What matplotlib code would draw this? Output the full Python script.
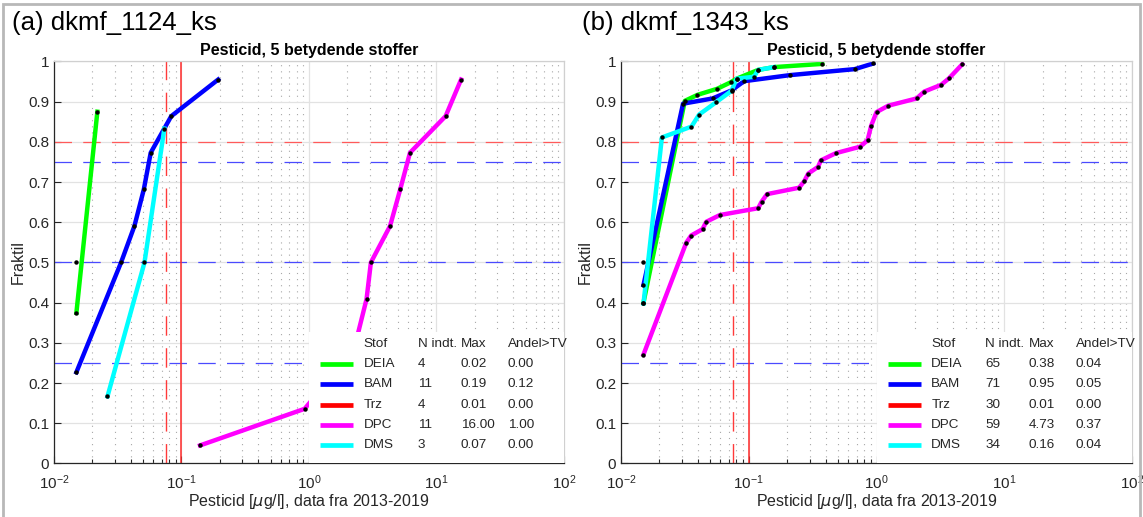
import matplotlib
matplotlib.use("Agg")
import matplotlib.pyplot as plt
from matplotlib.patches import Rectangle
from matplotlib.ticker import FixedLocator, FuncFormatter

plt.rcParams["font.family"] = ["Liberation Sans", "DejaVu Sans"]

dark = "#262626"

substances = ["DEIA", "BAM", "Trz", "DPC", "DMS"]
colors = ["#00ff00", "#0000ff", "#ff0000", "#ff00ff", "#00ffff"]

# (a) dkmf_1124_ks
a_x = {
    "DEIA": [0.015, 0.0219],
    "BAM": [0.015, 0.0336, 0.0428, 0.0507, 0.0574, 0.0832, 0.194],
    "Trz": [],
    "DPC": [0.14, 0.925, 1.6, 2.4, 2.83, 3.06, 4.33, 5.2, 6.2, 11.8, 15.6],
    "DMS": [0.0263, 0.0513, 0.0734],
}
a_y = {
    "DEIA": [0.375, 0.875],
    "BAM": [0.227, 0.5, 0.591, 0.682, 0.773, 0.864, 0.955],
    "Trz": [],
    "DPC": [0.045, 0.136, 0.227, 0.318, 0.409, 0.5, 0.591, 0.682, 0.773, 0.864, 0.955],
    "DMS": [0.167, 0.5, 0.833],
}
a_extra_x = [0.015]
a_extra_y = [0.5]
a_n = [4, 11, 4, 11, 3]
a_max = [0.02, 0.19, 0.01, 16.00, 0.07]
a_andel = [0.00, 0.12, 0.00, 1.00, 0.00]

# (b) dkmf_1343_ks
b_x = {
    "DEIA": [0.015, 0.0316, 0.0397, 0.0566, 0.072, 0.0802, 0.1185, 0.158, 0.376],
    "BAM": [0.015, 0.0306, 0.0521, 0.0733, 0.092, 0.21, 0.677, 0.942],
    "Trz": [],
    "DPC": [0.015, 0.0324, 0.0354, 0.0435, 0.0464, 0.0594, 0.1185, 0.126, 0.139,
            0.248, 0.273, 0.292, 0.349, 0.367, 0.481, 0.745, 0.851, 0.908, 1.0,
            1.235, 2.06, 2.36, 3.21, 3.69, 4.69],
    "DMS": [0.015, 0.0209, 0.0356, 0.0409, 0.0552, 0.0733, 0.0802, 0.110, 0.1185, 0.158],
}
b_y = {
    "DEIA": [0.40, 0.902, 0.917, 0.932, 0.948, 0.957, 0.979, 0.986, 0.994],
    "BAM": [0.444, 0.895, 0.908, 0.928, 0.951, 0.966, 0.981, 0.995],
    "Trz": [],
    "DPC": [0.271, 0.549, 0.567, 0.583, 0.601, 0.618, 0.635, 0.651, 0.670,
            0.686, 0.703, 0.721, 0.738, 0.754, 0.772, 0.788, 0.804, 0.840, 0.874,
            0.890, 0.908, 0.925, 0.942, 0.958, 0.993],
    "DMS": [0.398, 0.811, 0.838, 0.868, 0.898, 0.927, 0.957, 0.962, 0.979, 0.986],
}
b_extra_x = [0.015]
b_extra_y = [0.5]
b_n = [65, 71, 30, 59, 34]
b_max = [0.38, 0.95, 0.01, 4.73, 0.16]
b_andel = [0.04, 0.05, 0.00, 0.37, 0.04]

tv = 0.1
tv_75 = 0.075
y_ticks = [0, 0.1, 0.2, 0.3, 0.4, 0.5, 0.6, 0.7, 0.8, 0.9, 1]


def table_legend(ax, n_indt, max_val, andel):
    # MATLAB-like legend with extra columns
    ax.add_patch(Rectangle((0.50, 0.0), 0.50, 0.328, transform=ax.transAxes,
                           facecolor="white", edgecolor="none", zorder=5))
    fs = 9.7
    head_y = 0.297
    kw = dict(transform=ax.transAxes, fontsize=fs, color=dark, va="center",
              ha="left", zorder=6, clip_on=False)
    ax.text(0.607, head_y, "Stof", **kw)
    ax.text(0.713, head_y, "N indt.", **kw)
    ax.text(0.798, head_y, "Max", **kw)
    ax.text(0.890, head_y, "Andel>TV", **kw)
    for i, name in enumerate(substances):
        yy = head_y - 0.0502 * (i + 1)
        ax.plot([0.522, 0.587], [yy, yy], transform=ax.transAxes, color=colors[i],
                lw=3.4, solid_capstyle="butt", zorder=6)
        ax.text(0.607, yy, name, **kw)
        ax.text(0.713, yy, str(n_indt[i]), **kw)
        ax.text(0.798, yy, f"{max_val[i]:.2f}", **kw)
        ax.text(0.890, yy, f"{andel[i]:.2f}", **kw)


def panel(ax, xs, ys, extra_x, extra_y, n_indt, max_val, andel):
    ax.set_xscale("log")
    ax.set_xlim(1e-2, 1e2)
    ax.set_ylim(0, 1)

    ax.grid(True, which="major", color="#e2e2e2", lw=0.9, zorder=0)
    ax.grid(True, which="minor", axis="x", color="#a8a8a8", lw=0.8,
            linestyle=(0, (1, 4.5)), zorder=0)
    ax.set_axisbelow(True)

    ax.axhline(0.8, color="#ff5a5a", lw=0.9, dashes=(14, 9), zorder=1)
    for yv in [0.75, 0.5, 0.25]:
        ax.axhline(yv, color="#4a4aff", lw=0.9, dashes=(14, 9), zorder=1)
    ax.axvline(tv, color="#ff2a2a", lw=1.1, zorder=1.5)
    ax.axvline(tv_75, color="#ff3a3a", lw=1.0, dashes=(14, 9), zorder=1.5)

    for name, c in zip(substances, colors):
        if len(xs[name]) == 0:
            continue
        ax.plot(xs[name], ys[name], color=c, lw=3.2, zorder=2,
                solid_joinstyle="round")
    for name in substances:
        ax.plot(xs[name], ys[name], "o", color="k", ms=3.2, mew=0, zorder=3)
    ax.plot(extra_x, extra_y, "o", color="k", ms=3.2, mew=0, zorder=3)

    ax.yaxis.set_major_locator(FixedLocator(y_ticks))
    ax.yaxis.set_major_formatter(FuncFormatter(lambda v, p: f"{v:g}"))
    ax.tick_params(which="both", direction="in", colors=dark, labelsize=11,
                   top=False, right=False)
    ax.tick_params(which="major", length=5, width=0.8)
    ax.tick_params(which="minor", length=3, width=0.8)
    ax.tick_params(axis="x", which="major", pad=7)
    for side in ["left", "bottom"]:
        ax.spines[side].set_color(dark)
        ax.spines[side].set_linewidth(0.9)
    for side in ["top", "right"]:
        ax.spines[side].set_color("#d0d0d0")
        ax.spines[side].set_linewidth(0.9)

    ax.set_title("Pesticid, 5 betydende stoffer", fontsize=11.5,
                 fontweight="bold", color="k", pad=5)
    ax.set_xlabel(r"Pesticid [$\mu$g/l], data fra 2013-2019", fontsize=11.5,
                  color=dark)
    ax.set_ylabel("Fraktil", fontsize=11.5, color=dark)
    ax.xaxis.set_label_coords(0.5, -0.072)
    ax.yaxis.set_label_coords(-0.055, 0.5)

    table_legend(ax, n_indt, max_val, andel)


fig = plt.figure(figsize=(11.43, 5.17), dpi=100)
ax_a = fig.add_axes([0.0472, 0.1035, 0.4462, 0.7776])
ax_b = fig.add_axes([0.5433, 0.1035, 0.4471, 0.7776])

panel(ax_a, a_x, a_y, a_extra_x, a_extra_y, a_n, a_max, a_andel)
panel(ax_b, b_x, b_y, b_extra_x, b_extra_y, b_n, b_max, b_andel)

fig.text(12 / 1143, 1 - 23 / 517, "(a) dkmf_1124_ks", fontsize=18.5,
         va="center", ha="left", color="k")
fig.text(582 / 1143, 1 - 23 / 517, "(b) dkmf_1343_ks", fontsize=18.5,
         va="center", ha="left", color="k")

# grey frame round the figure
fig.patches.append(Rectangle((3 / 1143, -0.02), 1137 / 1143, 1.02 - 4 / 517,
                             transform=fig.transFigure, fill=False,
                             edgecolor="#b8b8b8", lw=2))

fig.savefig("out.png", dpi=100, facecolor="white")
